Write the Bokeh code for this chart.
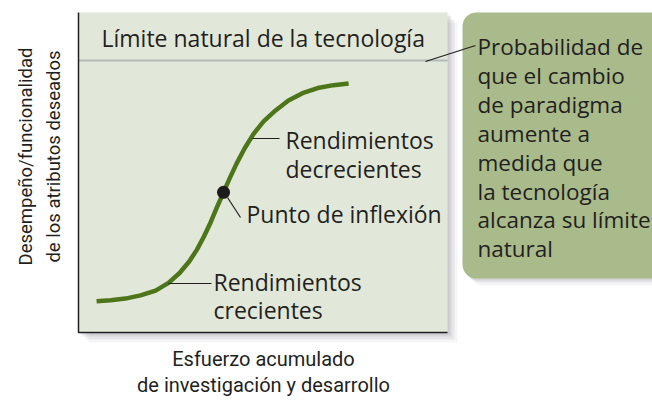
import math
from bokeh.plotting import figure
from bokeh.models import Range1d, BoxAnnotation
from bokeh.core.properties import value
from bokeh.embed import file_html
from bokeh.resources import INLINE

# ---- data (axis units: % of the drawn axis length) ----
effort = [4.9, 8.7, 12.7, 16.8, 20.9, 24.4, 27.4, 30.0, 32.1, 34.0, 35.8, 37.5,
          39.3, 40.9, 42.8, 45.0, 47.4, 50.1, 53.4, 56.9, 60.7, 64.8, 69.1, 73.2]
performance = [9.8, 10.1, 10.6, 11.6, 13.1, 15.5, 18.6, 22.2, 25.9, 30.0, 34.4, 39.1,
               43.8, 48.0, 52.7, 57.5, 62.0, 65.9, 69.4, 72.5, 74.8, 76.4, 77.3, 77.8]
inflection_x = [39.3]
inflection_y = [43.8]
natural_limit = 85.0

limit_label = "Límite natural de la tecnología"
box_lines = ["Probabilidad de", "que el cambio", "de paradigma", "aumente a",
             "medida que", "la tecnología", "alcanza su límite", "natural"]
x_label = ["Esfuerzo acumulado", "de investigación y desarrollo"]
y_label = ["Desempeño/funcionalidad", "de los atributos deseados"]

W, H = 652, 400
# page-pixel -> axis-unit helpers for layout of annotations
PL, PR, PT, PB = 78, 447, 12, 332
SX = (PR - PL) / 100.0
SY = (PB - PT) / 100.0
def X(px):
    return (px - PL) / SX
def Y(py):
    return (PB - py) / SY
D = 9  # text baseline correction (px)

p = figure(width=W, height=H, x_range=Range1d(X(0), X(W)),
           y_range=Range1d(Y(H), Y(0)), output_backend="svg",
           toolbar_location=None, min_border=0, outline_line_color=None,
           x_axis_location=None, y_axis_location=None,
           background_fill_color="white", border_fill_color="white")
p.grid.visible = False

TXT = "#231f20"
FONT = value("Open Sans")
FONT2 = value("Roboto")

# shadow of plot panel
for k, a in [(10, 0.05), (7, 0.07), (4, 0.09), (2, 0.08)]:
    p.quad(left=[X(PL + k)], right=[X(PR + k)], top=[Y(PT + k)], bottom=[Y(PB + k)],
           fill_color="#3a3a50", fill_alpha=a, line_color=None)
# panel
p.quad(left=[0], right=[100], top=[100], bottom=[0],
       fill_color="#e2e8d9", line_color=None)
# green note box with shadow
for k, a in [(7, 0.05), (4, 0.08), (2, 0.10)]:
    p.add_layout(BoxAnnotation(left=X(462 + k), right=X(720), top=Y(12 + k), bottom=Y(278 + k),
                               fill_color="#3a3a50", fill_alpha=a, line_color=None,
                               border_radius=14, level="underlay"))
p.add_layout(BoxAnnotation(left=X(462), right=X(720), top=Y(12), bottom=Y(278),
                           fill_color="#a9ba8b", fill_alpha=1.0, line_color=None,
                           border_radius=14, level="underlay"))

# natural limit line
p.line([0, 100], [natural_limit, natural_limit], line_color="#b4b8b8", line_width=2)
# axes lines (left & bottom)
p.line([0, 0, 100], [100, 0, 0], line_color=TXT, line_width=1.5)

# S curve
p.line(effort, performance, line_color="#4c7619", line_width=4.5,
       line_join="round", line_cap="butt")
p.scatter(inflection_x, inflection_y, size=13, fill_color="#1c1c1c", line_color=None)

# leader lines
p.segment(x0=[X(425), X(252), X(227), X(168)], y0=[Y(61), Y(138), Y(197), Y(283)],
          x1=[X(475), X(279), X(240), X(211)], y1=[Y(45), Y(138), Y(217), Y(283)],
          line_color=TXT, line_width=1.2)

# texts
p.text(x=[X(101)], y=[Y(46 - D)], text=[limit_label], text_font=FONT,
       text_font_size="23px", text_color=TXT, text_baseline="alphabetic")
p.text(x=[X(477)] * len(box_lines), y=[Y(55 - D + 28.9 * i) for i in range(len(box_lines))],
       text=box_lines, text_font=FONT, text_font_size="22.5px", text_color=TXT,
       text_baseline="alphabetic")
p.text(x=[X(285), X(285), X(246), X(213), X(213)],
       y=[Y(148 - D), Y(177 - D), Y(222 - D), Y(290 - D), Y(318 - D)],
       text=["Rendimientos", "decrecientes", "Punto de inflexión", "Rendimientos", "crecientes"],
       text_font=FONT, text_font_size="23px", text_color=TXT, text_baseline="alphabetic")
p.text(x=[X(263), X(263)], y=[Y(366 - 8), Y(392 - 8)], text=x_label, text_font=FONT2,
       text_font_size="20px", text_color=TXT, text_align="center", text_baseline="alphabetic")
p.text(x=[X(33 - 8), X(61 - 8)], y=[Y(156), Y(156)], text=y_label, text_font=FONT2,
       text_font_size="18.5px", text_color=TXT, text_align="center", text_baseline="alphabetic",
       angle=math.pi / 2)

open("out.html", "w").write(file_html(p, INLINE))
